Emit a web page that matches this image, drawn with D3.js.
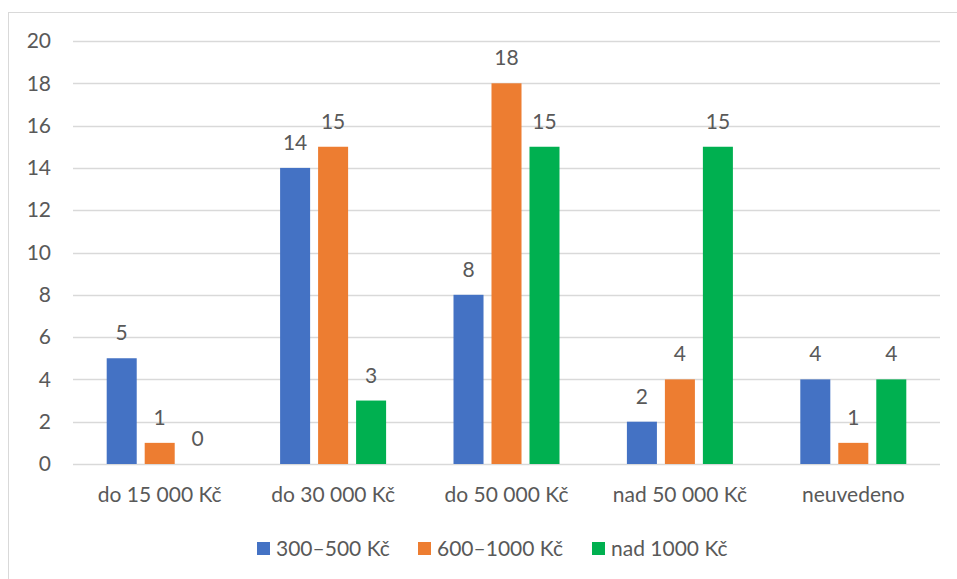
<!DOCTYPE html>
<html><head><meta charset="utf-8">
<script src="https://cdn.jsdelivr.net/npm/d3@7"></script>
<style>body{margin:0;background:#fff}svg{display:block}</style>
</head><body>
<script>
const categories = ["do 15 000 Kč","do 30 000 Kč","do 50 000 Kč","nad 50 000 Kč","neuvedeno"];
const seriesNames = ["300–500 Kč","600–1000 Kč","nad 1000 Kč"];
const seriesColors = ["#4472C4","#ED7D31","#00B050"];
const s1 = [5,14,8,2,4];
const s2 = [1,15,18,4,1];
const s3 = [0,3,15,15,4];
const yTicks = [0,2,4,6,8,10,12,14,16,18,20];
const series = [s1,s2,s3];

(function(){
const W=957,H=579;
const svg=d3.select("body").append("svg").attr("width",W).attr("height",H);
const font="Lato, 'Open Sans', sans-serif";
const fs=21;
const tc="#595959";
svg.append("rect").attr("x",8.5).attr("y",12.5).attr("width",W+10).attr("height",H+10)
  .attr("fill","#fff").attr("stroke","#d9d9d9").attr("stroke-width",1);

const pl=73,pr=940,pt=41,pb=464;
const x=d3.scaleBand().domain(categories).range([pl,pr]);
const xi=d3.scaleBand().domain([0,1,2]).range([0,x.bandwidth()]).paddingInner(0.21).paddingOuter(0.887);
const y=d3.scaleLinear().domain([0,20]).range([pb,pt]);

svg.append("g").selectAll("line").data(yTicks).join("line")
  .attr("x1",pl).attr("x2",pr).attr("y1",d=>Math.round(y(d))+0.5).attr("y2",d=>Math.round(y(d))+0.5)
  .attr("stroke","#d9d9d9").attr("stroke-width",1.5);

const yAxis=d3.axisLeft(y).tickValues(yTicks).tickSize(0).tickPadding(0);
const ya=svg.append("g").attr("transform","translate(51,0)").call(yAxis);
ya.select(".domain").remove();
ya.selectAll("text").attr("font-family",font).attr("font-size",fs).attr("fill",tc);

const xAxis=d3.axisBottom(x).tickSize(0).tickPadding(0);
const xa=svg.append("g").attr("transform",`translate(0,${pb})`).call(xAxis);
xa.select(".domain").remove();
xa.selectAll("text").attr("font-family",font).attr("font-size",fs).attr("fill",tc)
  .attr("dy",0).attr("y",38);

series.forEach((vals,si)=>{
  const gg=svg.append("g");
  gg.selectAll("rect").data(vals).join("rect")
    .attr("x",(d,i)=>x(categories[i])+xi(si))
    .attr("width",xi.bandwidth())
    .attr("y",d=>y(d)).attr("height",d=>y(0)-y(d))
    .attr("fill",seriesColors[si]);
  gg.selectAll("text").data(vals).join("text")
    .attr("x",(d,i)=>x(categories[i])+xi(si)+xi.bandwidth()/2)
    .attr("y",d=>y(d)-18)
    .attr("text-anchor","middle").attr("font-family",font).attr("font-size",fs).attr("fill",tc)
    .text(d=>d);
});

const lg=svg.append("g");
seriesNames.forEach((n,i)=>{
  const gx=[257,418,592][i];
  lg.append("rect").attr("x",gx).attr("y",542).attr("width",13).attr("height",13).attr("fill",seriesColors[i]);
  lg.append("text").attr("x",gx+19).attr("y",556).attr("font-family",font).attr("font-size",fs).attr("fill",tc).text(n);
});
})();
</script>
</body></html>
